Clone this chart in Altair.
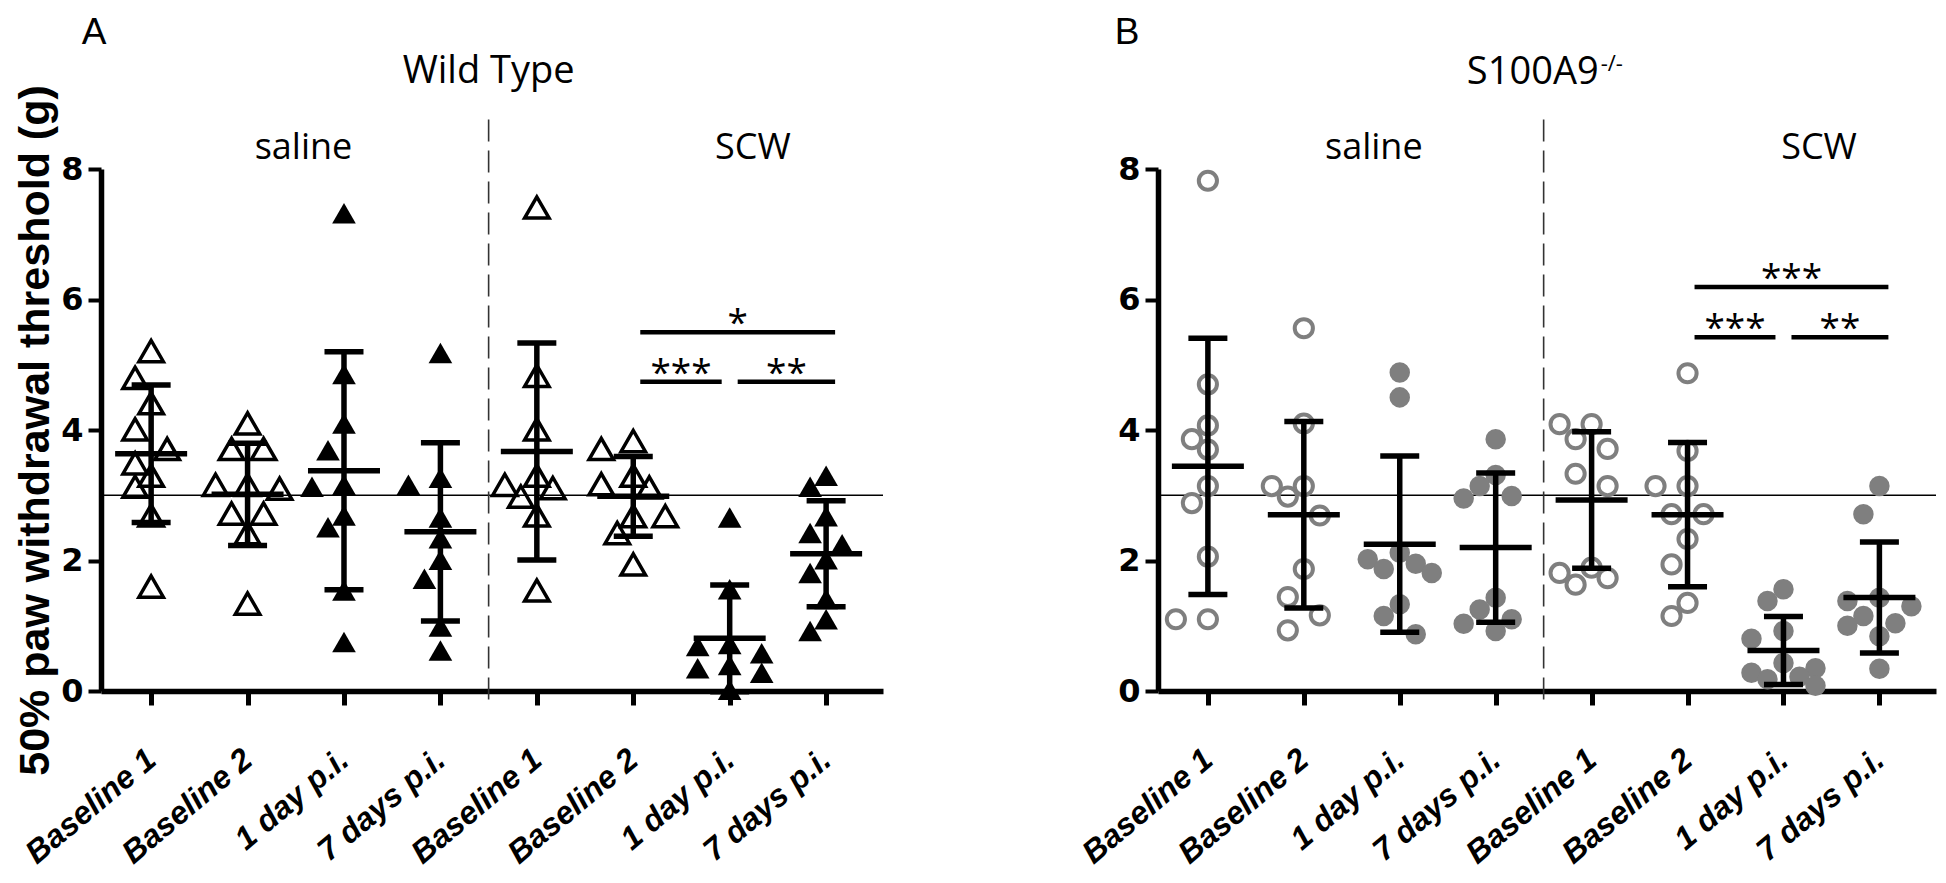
import altair as alt
import pandas as pd

# ---------------- data (50% paw withdrawal threshold, g) ----------------
timepoints = ["Baseline 1", "Baseline 2", "1 day p.i.", "7 days p.i."]
treatments = ["saline", "SCW"]

# Panel A - Wild Type
wt_saline_baseline1 = [5.21, 4.80, 4.41, 4.01, 3.71, 3.49, 3.30, 3.13, 2.69, 1.60]
wt_saline_baseline2 = [4.10, 3.71, 3.71, 3.16, 3.16, 3.10, 2.72, 2.72, 2.42, 1.34]
wt_saline_day1 = [7.32, 4.86, 4.10, 3.69, 3.16, 3.13, 2.69, 2.51, 1.54, 0.75]
wt_saline_day7 = [5.18, 3.27, 3.16, 2.66, 2.34, 2.01, 1.72, 0.99, 0.62]
wt_scw_baseline1 = [7.41, 4.83, 4.01, 3.30, 3.16, 3.11, 2.98, 2.69, 1.54]
wt_scw_baseline2 = [3.83, 3.71, 3.30, 3.17, 3.12, 2.68, 2.68, 2.42, 1.94]
wt_scw_day1 = [2.66, 1.56, 0.72, 0.69, 0.58, 0.40, 0.35, 0.28, 0.02]
wt_scw_day7 = [3.30, 3.13, 2.68, 2.42, 2.25, 2.02, 1.81, 1.41, 1.10, 0.92]

# Panel B - S100A9-/-
ko_saline_baseline1 = [7.82, 4.70, 4.07, 3.86, 3.70, 3.14, 2.88, 2.06, 1.10, 1.10]
ko_saline_baseline2 = [5.56, 4.10, 3.14, 3.14, 2.98, 2.69, 1.87, 1.44, 1.16, 0.93]
ko_saline_day1 = [4.88, 4.50, 2.12, 2.02, 1.95, 1.87, 1.81, 1.33, 1.15, 0.87]
ko_saline_day7 = [3.86, 3.31, 3.14, 2.99, 2.95, 1.43, 1.25, 1.10, 1.03, 0.92]
ko_scw_baseline1 = [4.09, 4.09, 3.86, 3.71, 3.33, 3.14, 1.89, 1.81, 1.73, 1.63]
ko_scw_baseline2 = [4.87, 3.68, 3.14, 3.14, 2.71, 2.71, 2.33, 1.94, 1.35, 1.15]
ko_scw_day1 = [1.56, 1.38, 0.92, 0.80, 0.43, 0.35, 0.28, 0.22, 0.18, 0.08]
ko_scw_day7 = [3.14, 2.71, 1.43, 1.38, 1.30, 1.15, 1.04, 1.00, 0.84, 0.34]

# significance comparisons: (from column, to column, label, bar height in g)
wt_comparisons = [(5, 7, "*", 5.50), (5, 6, "***", 4.74), (6, 7, "**", 4.74)]
ko_comparisons = [(5, 7, "***", 6.19), (5, 6, "***", 5.42), (6, 7, "**", 5.42)]

reference_threshold = 3.0

# ---------------- layout constants ----------------
X_DOMAIN = [-0.52, 7.59]
Y_DOMAIN = [0, 8]
PLOT_H = 522
GRAY = "#7f7f7f"


def swarm(values, px_x, px_y, step=16.0, dmin=30.0, relaxed=19.0):
    """simple beeswarm: horizontal offsets (data units) so markers do not overlap"""
    order = sorted(range(len(values)), key=lambda i: -values[i])
    placed = []
    offs = [0.0] * len(values)

    def min_dist(x, y):
        if not placed:
            return 1e9
        return min(((x - a) ** 2 + (y - b) ** 2) ** 0.5 for a, b in placed)

    for i in order:
        y = values[i] * px_y
        chosen = None
        for limit in (dmin, relaxed):
            for k in (0, -1, 1):
                if min_dist(k * step, y) >= limit:
                    chosen = k * step
                    break
            if chosen is not None:
                break
        if chosen is None:
            cands = [k * step for k in (0, -1, 1, -2, 2)]
            chosen = max(cands, key=lambda x: min_dist(x, y))
        placed.append((chosen, y))
        offs[i] = chosen / px_x
    return offs


def panel(columns, comparisons, width, shape, color, open_size, filled_size,
          open_stroke, headers, sup=None, y_title=None):
    px_x = width / (X_DOMAIN[1] - X_DOMAIN[0])
    px_y = PLOT_H / (Y_DOMAIN[1] - Y_DOMAIN[0])
    rows = []
    for slot, vals in enumerate(columns):
        offs = swarm(vals, px_x, px_y)
        for v, o in zip(vals, offs):
            rows.append({"slot": slot, "value": v, "xpos": slot + o,
                         "treatment": treatments[slot // 4],
                         "timepoint": timepoints[slot % 4],
                         "filled": (slot % 4) >= 2})
    df = pd.DataFrame(rows)

    xs = alt.Scale(domain=X_DOMAIN, nice=False, zero=False)
    ys = alt.Scale(domain=Y_DOMAIN, nice=False, zero=False)

    label_expr = "[" + ",".join("'" + t + "'" for t in timepoints * 2) + "][datum.value]"
    x_axis = alt.Axis(values=list(range(8)), labelExpr=label_expr, grid=False, title=None,
                      domainColor="black", domainWidth=5.5, tickColor="black",
                      tickWidth=5, tickSize=14, labelFont="Liberation Sans",
                      labelFontSize=32, labelFontWeight="bold", labelFontStyle="italic",
                      labelColor="black", labelAngle=-40, labelAlign="right",
                      labelBaseline="middle", labelPadding=50, labelOverlap=False,
                      labelFlush=False)
    y_kwargs = dict(values=[0, 2, 4, 6, 8], format="d", grid=False, domainColor="black",
                    domainWidth=5.5, tickColor="black", tickWidth=4, tickSize=13,
                    labelFont="DejaVu Sans", labelFontSize=32, labelFontWeight="bold",
                    labelColor="black", labelPadding=5)
    if y_title:
        y_kwargs.update(title=y_title, titleFont="Liberation Sans", titleFontSize=43,
                        titleFontWeight="bold", titleColor="black", titlePadding=3)
    else:
        y_kwargs.update(title=None)
    y_axis = alt.Axis(**y_kwargs)

    X = lambda f: alt.X(f, scale=xs, axis=x_axis)
    Y = lambda f: alt.Y(f, scale=ys, axis=y_axis)

    base = alt.Chart(df)

    ref = alt.Chart(pd.DataFrame({"ref": [reference_threshold]})).mark_rule(
        color="black", strokeWidth=1.5).encode(y=Y("ref:Q"))

    div_df = pd.DataFrame({"x": [len(timepoints) - 0.5], "top": [8.76], "bot": [-0.27]})
    divider = alt.Chart(div_df).mark_rule(color="#333333", strokeWidth=1.6,
                                          strokeDash=[22, 9]).encode(
        x=X("x:Q"), y=Y("top:Q"), y2="bot:Q")

    open_pts = base.transform_filter("!datum.filled").mark_point(
        shape=shape, filled=False, size=open_size, strokeWidth=open_stroke,
        color=color, opacity=1).encode(x=X("xpos:Q"), y=Y("value:Q"))
    filled_pts = base.transform_filter("datum.filled").mark_point(
        shape=shape, filled=True, size=filled_size, strokeWidth=0,
        color=color, opacity=1).encode(x=X("xpos:Q"), y=Y("value:Q"))

    stats = base.transform_aggregate(m="mean(value)", s="stdev(value)", groupby=["slot"]) \
        .transform_calculate(lo="datum.m - datum.s", hi="datum.m + datum.s")
    stem = stats.mark_rule(color="black", strokeWidth=5.5).encode(
        x=X("slot:Q"), y=Y("lo:Q"), y2="hi:Q")
    cap_hi = stats.mark_tick(color="black", orient="horizontal", size=39,
                             thickness=5.5, opacity=1).encode(x=X("slot:Q"), y=Y("hi:Q"))
    cap_lo = stats.mark_tick(color="black", orient="horizontal", size=39,
                             thickness=5.5, opacity=1).encode(x=X("slot:Q"), y=Y("lo:Q"))
    mean = stats.mark_tick(color="black", orient="horizontal", size=72,
                           thickness=5.5, opacity=1).encode(x=X("slot:Q"), y=Y("m:Q"))

    # significance bars
    lead, trail, gap = 7 / px_x, 9 / px_x, 8 / px_x
    sig_rows = []
    adj = [c for c in comparisons if c[1] - c[0] == 1]
    for a, b, lab, h in comparisons:
        x1 = a + lead
        x2 = b + trail
        if b - a == 1:
            if any(c[1] == a for c in adj):
                x1 = a + gap
            if any(c[0] == b for c in adj):
                x2 = b - gap
        sig_rows.append({"x1": x1, "x2": x2, "y": h, "label": lab})
    sig_df = pd.DataFrame(sig_rows)
    sig_bars = alt.Chart(sig_df).mark_rule(color="black", strokeWidth=4.5).encode(
        x=X("x1:Q"), x2="x2:Q", y=Y("y:Q"))
    stars = alt.Chart(sig_df).transform_calculate(xm="(datum.x1 + datum.x2) / 2").mark_text(
        font="Open Sans", fontSize=37, color="black", align="center",
        baseline="alphabetic", dy=3).encode(x=X("xm:Q"), y=Y("y:Q"), text="label:N")

    letters = [h for h in headers if h["text"] in ("A", "B")]
    others = [h for h in headers if h["text"] not in ("A", "B")]
    hdr = alt.Chart(pd.DataFrame(others)).mark_text(
        font="Open Sans", color="black", align="center", baseline="alphabetic").encode(
        x=X("x:Q"), y=Y("y:Q"), text="text:N", size=alt.Size("fs:Q", scale=None))
    let = alt.Chart(pd.DataFrame(letters)).mark_text(
        font="Liberation Sans", color="black", align="center", baseline="alphabetic",
        fontSize=37).encode(x=X("x:Q"), y=Y("y:Q"), text="text:N")

    layers = [ref, divider, open_pts, filled_pts, stem, cap_hi, cap_lo, mean,
              sig_bars, stars, hdr, let]
    if sup:
        main_t, sup_t = sup
        layers.append(alt.Chart(pd.DataFrame([main_t])).mark_text(
            font="Open Sans", color="black", align="right", baseline="alphabetic",
            fontSize=38).encode(x=X("x:Q"), y=Y("y:Q"), text="text:N"))
        layers.append(alt.Chart(pd.DataFrame([sup_t])).mark_text(
            font="Open Sans", color="black", align="left", baseline="alphabetic",
            fontSize=22).encode(x=X("x:Q"), y=Y("y:Q"), text="text:N"))
    return alt.layer(*layers).properties(width=width, height=PLOT_H)


W_A, W_B = 782, 778
pxA = W_A / (X_DOMAIN[1] - X_DOMAIN[0])
pxB = W_B / (X_DOMAIN[1] - X_DOMAIN[0])
pxY = PLOT_H / (Y_DOMAIN[1] - Y_DOMAIN[0])

headers_a = [
    {"text": "A", "x": X_DOMAIN[0] - 7 / pxA, "y": 9.92, "fs": 37},
    {"text": "Wild Type", "x": 3.5, "y": 9.32, "fs": 38},
    {"text": "saline", "x": 1.58, "y": 8.15, "fs": 36},
    {"text": "SCW", "x": 6.24, "y": 8.15, "fs": 36},
]
headers_b = [
    {"text": "B", "x": X_DOMAIN[0] - 31 / pxB, "y": 9.92, "fs": 37},
    {"text": "saline", "x": 1.73, "y": 8.15, "fs": 36},
    {"text": "SCW", "x": 6.37, "y": 8.15, "fs": 36},
]
sup_b = ({"text": "S100A9", "x": 3.5 + 55 / pxB, "y": 9.30},
         {"text": "-/-", "x": 3.5 + 57 / pxB, "y": 9.30 + 13 / pxY})

panel_a = panel([wt_saline_baseline1, wt_saline_baseline2, wt_saline_day1, wt_saline_day7,
                 wt_scw_baseline1, wt_scw_baseline2, wt_scw_day1, wt_scw_day7],
                wt_comparisons, W_A, "triangle-up", "black", 600, 560, 3.5, headers_a,
                y_title="50% paw withdrawal threshold (g)")
panel_b = panel([ko_saline_baseline1, ko_saline_baseline2, ko_saline_day1, ko_saline_day7,
                 ko_scw_baseline1, ko_scw_baseline2, ko_scw_day1, ko_scw_day7],
                ko_comparisons, W_B, "circle", GRAY, 330, 420, 4, headers_b, sup=sup_b)

chart = alt.hconcat(panel_a, panel_b, spacing=275, bounds="flush").properties(
    padding={"left": 6, "top": 5, "right": 0, "bottom": 0}
).configure_view(stroke=None)

chart.save("out.html", embed_options={"renderer": "svg", "actions": False})
